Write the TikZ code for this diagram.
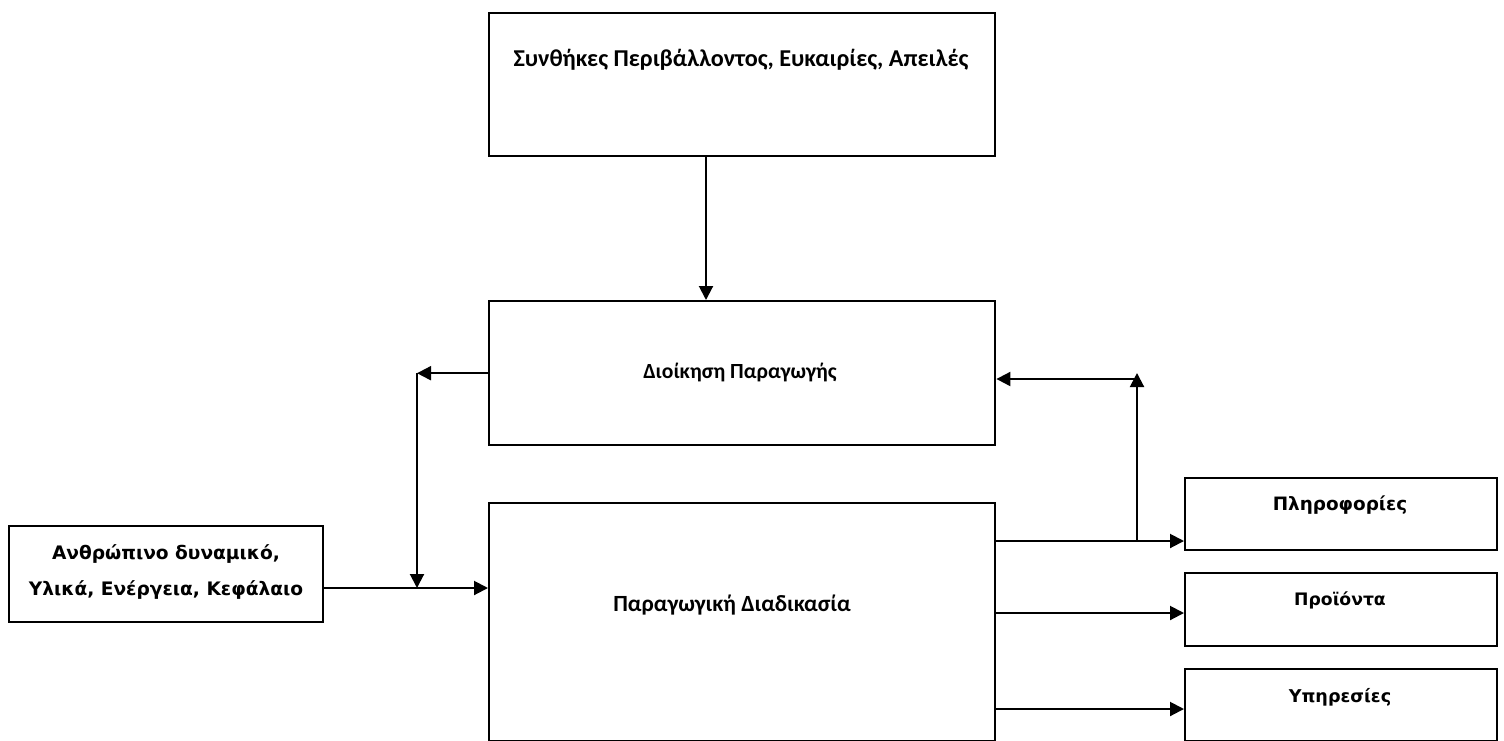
\documentclass[tikz,border=0pt]{standalone}
\usepackage{fontspec}
\setmainfont{Carlito}
\newfontfamily\dvfont{DejaVu Sans}
\usetikzlibrary{arrows.meta}
\begin{document}
\begin{tikzpicture}[x=0.5pt,y=-0.5pt,
  box/.style={draw,line width=1.2pt,inner sep=0pt,anchor=north west,minimum width=#1},
  conn/.style={line width=1pt,-{Triangle[length=7pt,width=7pt]}},
  maintxt/.style={font=\fontsize{12.1}{14}\selectfont\bfseries,inner sep=0pt},
  sidetxt/.style={font=\dvfont\fontsize{9.3}{18}\selectfont\bfseries,inner sep=0pt,align=center},
  smalltxt/.style={font=\dvfont\fontsize{9}{10}\selectfont\bfseries,inner sep=0pt}]
\useasboundingbox[fill=white] (0,0) rectangle (1504,740);

\node[box=253pt,minimum height=71.5pt] (env) at (488,12) {};
\node[box=253pt,minimum height=72pt] (dio) at (488,300) {};
\node[box=253pt,minimum height=119pt] (par) at (488,502) {};
\node[box=157pt,minimum height=48pt] (res) at (8,525) {};
\node[box=156pt,minimum height=36pt] (pli) at (1184,477) {};
\node[box=156pt,minimum height=36.5pt] (pro) at (1184,572) {};
\node[box=156pt,minimum height=36pt] (ypi) at (1184,668) {};

\node[maintxt] (envt) at (741,60) {Συνθήκες Περιβάλλοντος, Ευκαιρίες, Απειλές};
\node[maintxt,font=\fontsize{10.8}{13}\selectfont\bfseries] (diot) at (740,372) {Διοίκηση Παραγωγής};
\node[maintxt,font=\fontsize{11.6}{13}\selectfont\bfseries] (part) at (732,605) {Παραγωγική Διαδικασία};
\node[sidetxt] (rest) at (166,572) {Ανθρώπινο δυναμικό,\\Υλικά, Ενέργεια, Κεφάλαιο};
\node[smalltxt,font=\dvfont\fontsize{9.2}{10}\selectfont\bfseries] (plit) at (1340,505) {Πληροφορίες};
\node[smalltxt,font=\dvfont\fontsize{8.6}{10}\selectfont\bfseries] (prot) at (1340,600) {Προϊόντα};
\node[smalltxt,font=\dvfont\fontsize{8.8}{10}\selectfont\bfseries] (ypit) at (1340,697) {Υπηρεσίες};

\coordinate (ax) at (706,0);
\coordinate (lx) at (417,372);
\coordinate (iy) at (0,588);
\coordinate (fb) at (1137,541);
\coordinate (ft) at (1137,373);
\coordinate (fh) at (1137,379);
\coordinate (o2) at (0,613);
\coordinate (o3) at (0,709);

\draw[conn] (env.south -| ax) -- (dio.north -| ax);
\draw[conn] (dio.west) -- (dio.west -| lx);
\draw[conn] (dio.west -| lx) -- (lx |- iy);
\draw[conn] (res.east |- iy) -- (par.west |- iy);
\draw[conn] (par.east |- fb) -- (pli.west |- fb);
\draw[conn] (par.east |- o2) -- (pro.west |- o2);
\draw[conn] (par.east |- o3) -- (ypi.west |- o3);
\draw[conn] (fb) -- (ft);
\draw[conn] (fh) -- (dio.east |- fh);
\end{tikzpicture}
\end{document}
